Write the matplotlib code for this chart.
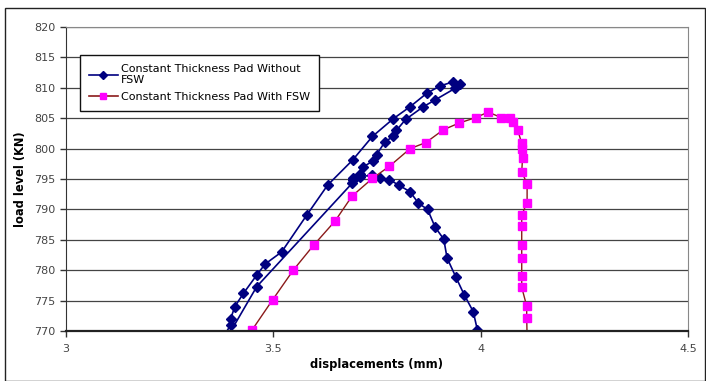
import matplotlib
matplotlib.use("Agg")
import matplotlib.pyplot as plt
from matplotlib.patches import Rectangle
from matplotlib.lines import Line2D

# Series without FSW (navy diamonds): loop up and back down, plus descending branch
nofsw_x = [3.375, 3.397, 3.397, 3.407, 3.428, 3.46, 3.48, 3.52, 3.58, 3.631, 3.691,
           3.739, 3.789, 3.83, 3.87, 3.902, 3.934, 3.95, 3.938, 3.89, 3.862, 3.819,
           3.797, 3.789, 3.769, 3.749, 3.741, 3.717, 3.709, 3.693, 3.69, 3.46, 3.385]
nofsw_y = [768.5, 771.0, 772.0, 774.0, 776.2, 779.2, 781.0, 783.0, 789.0, 794.0, 798.1,
           802.0, 804.9, 806.9, 809.1, 810.3, 811.0, 810.7, 809.9, 808.0, 806.9, 804.8,
           803.0, 802.0, 801.1, 799.0, 798.0, 797.0, 795.9, 795.1, 794.3, 777.3, 768.5]
branch_x = [3.693, 3.709, 3.737, 3.757, 3.78, 3.802, 3.83, 3.85, 3.872, 3.89, 3.911,
            3.919, 3.94, 3.96, 3.982, 3.992]
branch_y = [794.8, 795.4, 795.6, 795.1, 794.9, 794.0, 792.9, 791.0, 790.0, 787.1, 785.1,
            782.0, 778.9, 776.0, 773.2, 770.2]

# Series with FSW (magenta squares)
fsw_x = [3.449, 3.498, 3.548, 3.597, 3.649, 3.69, 3.739, 3.78, 3.83, 3.868, 3.91,
         3.948, 3.988, 4.018, 4.05, 4.071, 4.079, 4.089, 4.099, 4.099, 4.101, 4.099,
         4.112, 4.112, 4.099, 4.099, 4.099, 4.099, 4.099, 4.099, 4.111, 4.111, 4.112]
fsw_y = [770.2, 775.1, 780.0, 784.1, 788.1, 792.2, 795.1, 797.1, 800.0, 801.0, 803.1,
         804.2, 805.1, 806.0, 805.1, 805.1, 804.4, 803.1, 800.9, 800.0, 798.4, 796.2,
         794.2, 791.1, 789.1, 787.3, 784.1, 782.0, 779.0, 777.2, 774.1, 772.2, 769.0]

labels = ["Constant Thickness Pad Without\nFSW", "Constant Thickness Pad With FSW"]
x_ticks = [3, 3.5, 4, 4.5]
x_tick_labels = ["3", "3.5", "4", "4.5"]
y_ticks = [770, 775, 780, 785, 790, 795, 800, 805, 810, 815, 820]

W, H = 706, 381
fig = plt.figure(figsize=(W / 100, H / 100), dpi=100)
ax = fig.add_axes([66 / W, 1 - 331 / H, (688 - 66) / W, (331 - 27) / H])

navy = "#000080"
fig.patches.append(Rectangle((5 / W, 0), (W - 6) / W, 1 - 8 / H, transform=fig.transFigure,
                             fill=False, edgecolor="#222222", linewidth=1.0))

ax.plot(nofsw_x, nofsw_y, color=navy, lw=1.2, marker="D", ms=5.5, mfc=navy, mec=navy)
ax.plot(branch_x, branch_y, color=navy, lw=1.2, marker="D", ms=5.5, mfc=navy, mec=navy)
ax.plot(fsw_x, fsw_y, color="#8B1A1A", lw=1.0, marker="s", ms=6, mfc="#FF00FF", mec="#FF00FF")

ax.set_xlim(3, 4.5)
ax.set_ylim(770, 820)
ax.set_xticks(x_ticks)
ax.set_xticklabels(x_tick_labels)
ax.set_yticks(y_ticks)
ax.yaxis.grid(True, color="#444444", lw=0.9)
ax.set_axisbelow(True)
for s in ["top", "right"]:
    ax.spines[s].set_color("#888888")
ax.spines["left"].set_color("#333333")
ax.spines["bottom"].set_color("#222222")
ax.spines["bottom"].set_linewidth(1.6)
ax.tick_params(axis="both", labelsize=8, colors="#333333", length=4, width=1.0,
               labelcolor="#444444")
ax.tick_params(axis="x", direction="out", pad=5)
ax.set_xlabel("displacements (mm)", fontsize=8.3, fontweight="bold", labelpad=3)
ax.set_ylabel("load level (KN)", fontsize=8.3, fontweight="bold", labelpad=5)

handles = [Line2D([], [], color=navy, lw=1.2, marker="D", ms=4, mfc=navy, mec=navy),
           Line2D([], [], color="#8B1A1A", lw=1.2, marker="s", ms=5, mfc="#FF00FF", mec="#FF00FF")]
leg = ax.legend(handles, labels, loc="upper left", bbox_to_anchor=(14 / 622, 1 - 28 / 304),
                fontsize=8, frameon=True, fancybox=False, edgecolor="#111111",
                handlelength=2.6, handletextpad=0.3, borderpad=0.8, labelspacing=0.6,
                borderaxespad=0)
leg.get_frame().set_linewidth(1.0)
leg.get_frame().set_facecolor("white")
leg.get_frame().set_alpha(1)

fig.savefig("out.png", dpi=100)
